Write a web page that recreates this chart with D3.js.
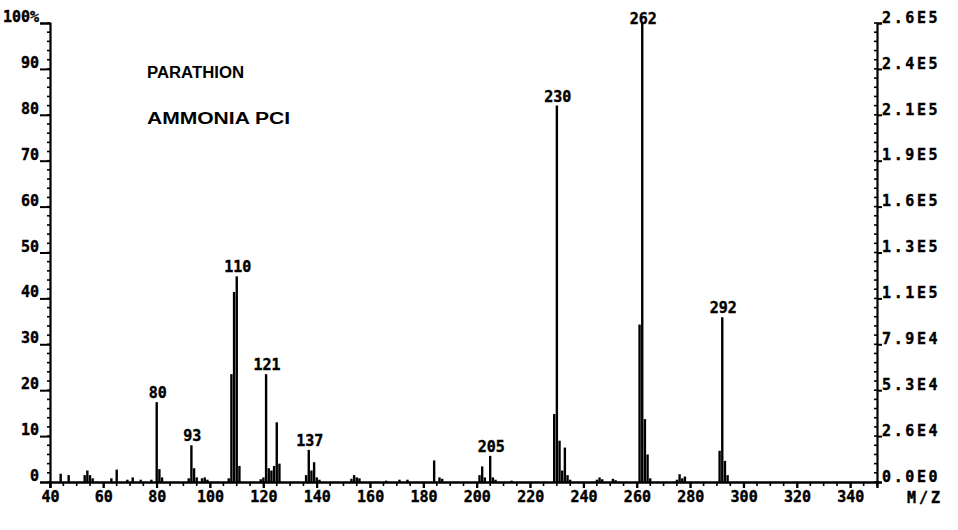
<!DOCTYPE html>
<html lang="en">
<meta charset="utf-8">
<style type="text/css">
  body { margin: 0; background: #fff; }
  svg { display: block; }
  .tick-lbl { font-family: "DejaVu Sans Mono", monospace; font-weight: bold; font-size: 15px; fill: #000; stroke: #000; stroke-width: 0.4px; }
  .note { font-family: "Liberation Sans", Arial, sans-serif; font-weight: bold; font-size: 16px; fill: #000; }
</style>
<body>
<script src="https://d3js.org/d3.v7.min.js"></script>
<script>
// spectrum: m/z and relative abundance (%)
var mz = [44, 47, 53, 54, 55, 56, 63, 65, 69, 71, 74, 78,
  80, 81, 82, 92, 93, 94, 95, 97, 98, 99,
  107, 108, 109, 110, 111, 119, 120, 121, 122, 123, 124, 125, 126,
  136, 137, 138, 139, 140, 141, 153, 154, 155, 156, 166, 171, 174,
  184, 186, 187, 201, 202, 203, 205, 206, 207, 213,
  229, 230, 231, 232, 233, 234, 235, 245, 246, 247, 251, 252,
  261, 262, 263, 264, 265, 275, 276, 277, 278,
  291, 292, 293, 294];
var abundance = [1.8, 1.5, 1.5, 2.5, 1.5, 0.8, 0.8, 2.7, 0.5, 1.0, 0.5, 0.5,
  17.4, 2.8, 1.0, 0.8, 8.0, 3.0, 1.0, 0.8, 1.0, 0.5,
  0.8, 23.5, 41.4, 44.8, 3.5, 0.6, 1.0, 23.5, 3.0, 2.5, 3.5, 13.0, 4.0,
  1.5, 7.0, 2.5, 4.3, 1.0, 0.5, 0.7, 1.5, 1.0, 0.8, 0.3, 0.5, 0.5,
  4.7, 1.0, 0.7, 1.5, 3.4, 1.0, 5.7, 1.0, 0.5, 0.3,
  14.8, 82.0, 9.0, 2.5, 7.5, 1.5, 0.5, 0.5, 1.0, 0.6, 0.7, 0.4,
  34.3, 100, 13.7, 6.0, 0.8, 0.5, 1.7, 0.8, 1.2,
  6.8, 35.9, 4.6, 1.5];
var labelled = [80, 93, 110, 121, 137, 205, 230, 262, 292];
var notes = ["PARATHION", "AMMONIA PCI"];
var maxCounts = 264500;   // ion count at 100%

var noteWidths = [97, 143];
var width = 958, height = 530;
var plotL = 50, plotR = 877, plotT = 23, plotB = 482;

var svg = d3.select("body").append("svg")
    .attr("width", width)
    .attr("height", height);

var x = d3.scaleLinear().domain([40, 350]).range([plotL, plotR]);
var y = d3.scaleLinear().domain([0, 100]).range([plotB, plotT]);
var y2 = d3.scaleLinear().domain([0, maxCounts]).range([plotB, plotT]);

var peaks = mz.map(function (m, i) { return {mz: m, v: abundance[i]}; });

// minor ticks
var g = svg.append("g").attr("stroke", "#000").attr("stroke-width", 1.6);
g.selectAll(".ly").data(d3.range(0, 101, 2)).enter().append("line")
    .attr("x1", plotL - 3).attr("x2", plotL)
    .attr("y1", function (d) { return y(d); }).attr("y2", function (d) { return y(d); });
g.selectAll(".ry").data(d3.range(0, 101, 2)).enter().append("line")
    .attr("x1", plotR - 3).attr("x2", plotR)
    .attr("y1", function (d) { return y(d); }).attr("y2", function (d) { return y(d); });
g.selectAll(".bx").data(d3.range(40, 351, 5)).enter().append("line")
    .attr("x1", function (d) { return x(d); }).attr("x2", function (d) { return x(d); })
    .attr("y1", plotB).attr("y2", function (d) { return plotB + (d % 20 === 0 ? 6 : 4); });

// left axis
svg.append("g")
    .attr("transform", "translate(" + plotL + ",0)")
    .call(d3.axisLeft(y).tickValues(d3.range(0, 101, 10)).tickSize(10).tickPadding(1)
        .tickFormat(function (d) { return d === 100 ? "100%" : d; }))
    .call(function (a) {
        a.select(".domain").attr("stroke-width", 2.2);
        a.selectAll("line").attr("stroke-width", 2);
        a.selectAll("text").attr("class", "tick-lbl").attr("dy", "-0.1em")
            .attr("font-family", null).attr("font-size", null);
    });

// right axis
svg.append("g")
    .attr("transform", "translate(" + plotR + ",0)")
    .call(d3.axisRight(y2).tickValues(d3.range(0, 11).map(function (i) { return maxCounts * i / 10; }))
        .tickSize(5).tickPadding(0)
        .tickFormat(function (d) { return d.toExponential(1).replace("e+", "E"); }))
    .call(function (a) {
        a.select(".domain").attr("stroke-width", 2.2);
        a.selectAll("line").attr("stroke-width", 2);
        a.selectAll("text").attr("class", "tick-lbl").attr("dy", "-0.05em")
            .style("letter-spacing", "2.6px")
            .attr("font-family", null).attr("font-size", null);
    });

// bottom axis
svg.append("g")
    .attr("transform", "translate(0," + plotB + ")")
    .call(d3.axisBottom(x).tickValues(d3.range(40, 341, 20)).tickSize(6).tickPadding(3))
    .call(function (a) {
        a.select(".domain").attr("stroke-width", 2.4);
        a.selectAll("line").attr("stroke-width", 2);
        a.selectAll("text").attr("class", "tick-lbl")
            .attr("font-family", null).attr("font-size", null);
    });

svg.append("text").attr("class", "tick-lbl")
    .attr("x", 925).attr("y", 503)
    .attr("text-anchor", "middle")
    .style("letter-spacing", "3px")
    .text("M/Z");

// peaks
svg.append("g").selectAll("line").data(peaks).enter().append("line")
    .attr("x1", function (d) { return x(d.mz); })
    .attr("x2", function (d) { return x(d.mz); })
    .attr("y1", plotB)
    .attr("y2", function (d) { return y(d.v); })
    .attr("stroke", "#000")
    .attr("stroke-width", 2.4);

// peak labels
svg.append("g").selectAll("text")
    .data(peaks.filter(function (d) { return labelled.indexOf(d.mz) >= 0; }))
    .enter().append("text")
    .attr("class", "tick-lbl")
    .attr("text-anchor", "middle")
    .attr("x", function (d) { return x(d.mz) + 1; })
    .attr("y", function (d) { return Math.max(y(d.v) - 4, y(100) + 1); })
    .text(function (d) { return d.mz; });

// notes
svg.append("g").selectAll("text").data(notes).enter().append("text")
    .attr("class", "note")
    .attr("x", 147)
    .attr("y", function (d, i) { return 78 + i * 46; })
    .attr("textLength", function (d, i) { return noteWidths[i]; })
    .attr("lengthAdjust", "spacingAndGlyphs")
    .text(function (d) { return d; });
</script>
</body>
</html>
